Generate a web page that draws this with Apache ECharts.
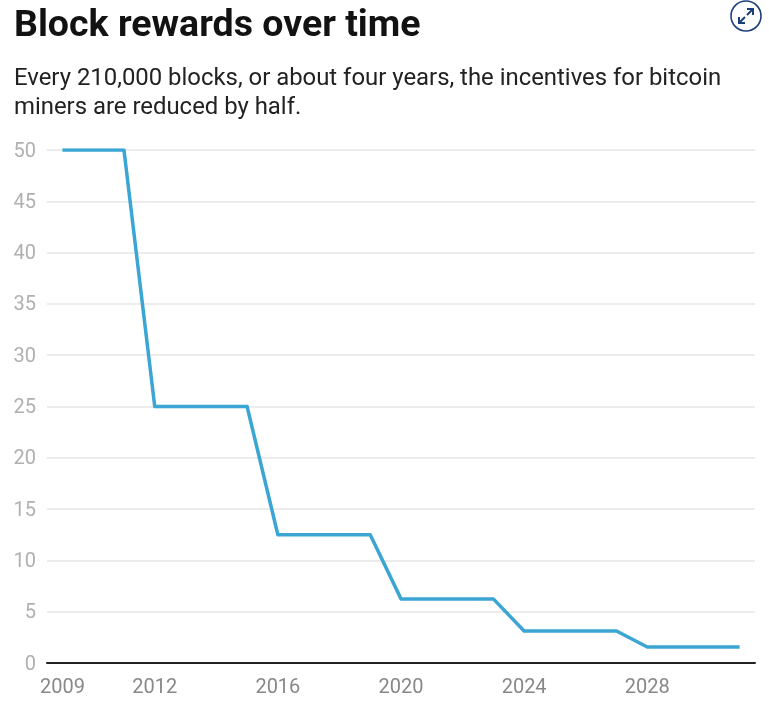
<!DOCTYPE html>
<html>
<head>
<meta charset="utf-8">
<style>
html, body { margin: 0; padding: 0; background: #fff; }
#chart { width: 769px; height: 706px; }
</style>
<script src="https://cdn.jsdelivr.net/npm/echarts@6/dist/echarts.min.js"></script>
</head>
<body>
<div id="chart"></div>
<script>
var years = ['2009', '2010', '2011', '2012', '2013', '2014', '2015', '2016', '2017', '2018', '2019', '2020', '2021', '2022', '2023', '2024', '2025', '2026', '2027', '2028', '2029', '2030', '2031'];
var rewards = [50, 50, 50, 25, 25, 25, 25, 12.5, 12.5, 12.5, 12.5, 6.25, 6.25, 6.25, 6.25, 3.125, 3.125, 3.125, 3.125, 1.5625, 1.5625, 1.5625, 1.5625];
var shownYears = ['2009', '2012', '2016', '2020', '2024', '2028'];
var titleText = 'Block rewards over time';
var subtitleLines = ['Every 210,000 blocks, or about four years, the incentives for bitcoin', 'miners are reduced by half.'];

var navy = '#1c3f7c';
var chart = echarts.init(document.getElementById('chart'));
var option = {
    backgroundColor: '#fff',
    animation: false,
    graphic: [
        { type: 'text', left: 14, top: 8, style: { text: titleText, font: 'bold 37.5px Roboto', fill: '#121212' } },
        { type: 'text', left: 14, top: 67, style: { text: subtitleLines[0], font: '23.9px Roboto', fill: '#222' } },
        { type: 'text', left: 14, top: 96, style: { text: subtitleLines[1], font: '23.9px Roboto', fill: '#222' } },
        // expand icon, top right
        { type: 'circle', shape: { cx: 746, cy: 16, r: 15 }, style: { fill: '#fff', stroke: navy, lineWidth: 1.6 } },
        { type: 'polyline', shape: { points: [[747, 9], [753, 9], [753, 15]] }, style: { fill: 'none', stroke: navy, lineWidth: 2 } },
        { type: 'line', shape: { x1: 753, y1: 9, x2: 747, y2: 15 }, style: { stroke: navy, lineWidth: 2 } },
        { type: 'polyline', shape: { points: [[739, 17], [739, 23], [745, 23]] }, style: { fill: 'none', stroke: navy, lineWidth: 2 } },
        { type: 'line', shape: { x1: 739, y1: 23, x2: 745, y2: 17 }, style: { stroke: navy, lineWidth: 2 } }
    ],
    grid: { left: 47, right: 14, top: 150, height: 513 },
    xAxis: {
        type: 'category',
        data: years,
        boundaryGap: true,
        axisLine: { lineStyle: { color: '#222', width: 2 } },
        axisTick: { show: false },
        splitLine: { show: false },
        axisLabel: {
            interval: 0,
            margin: 15,
            color: '#888',
            fontFamily: 'Roboto',
            fontSize: 20,
            formatter: function (v) { return shownYears.indexOf(v) >= 0 ? v : ''; }
        }
    },
    yAxis: {
        type: 'value',
        min: 0,
        max: 50,
        interval: 5,
        axisLine: { show: false },
        axisTick: { show: false },
        splitLine: { lineStyle: { color: '#e6e6e6', width: 1.5 } },
        // top-aligned with a small line height nudges the digits down onto the grid lines
        axisLabel: { margin: 11, verticalAlign: 'top', lineHeight: 3, color: '#b0b0b0', fontFamily: 'Roboto', fontSize: 20 }
    },
    series: [
        {
            type: 'line',
            data: rewards,
            symbol: 'none',
            lineStyle: { color: '#3ba5d3', width: 3.5, join: 'round' }
        }
    ]
};
chart.setOption(option);
</script>
</body>
</html>
